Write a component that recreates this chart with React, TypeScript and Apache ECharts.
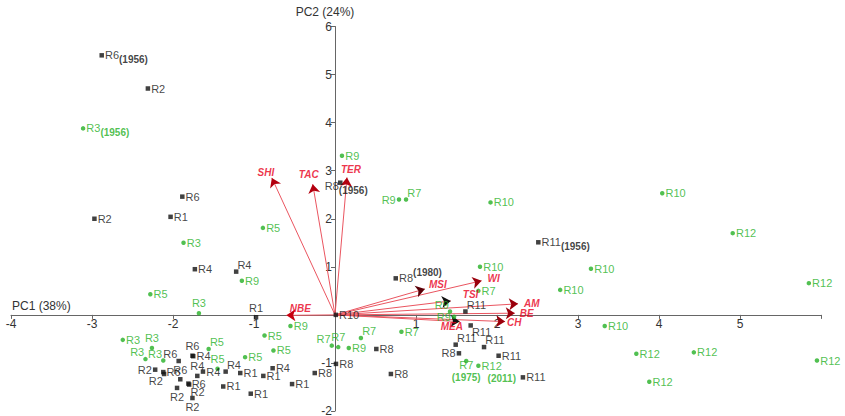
import React, { useEffect, useRef } from "react";
import * as echarts from "echarts";

// ---- data ----
// black samples: [PC1, PC2, label, note]
const blackPoints: [number, number, string, string][] = [
  [-2.88, 5.4, "R6", "(1956)"],
  [-2.31, 4.71, "R2", ""],
  [-1.885, 2.46, "R6", ""],
  [-2.97, 2.0, "R2", ""],
  [-2.03, 2.04, "R1", ""],
  [-1.73, 0.95, "R4", ""],
  [-1.22, 0.9, "R4", ""],
  [0.065, 2.75, "R8", "(1956)"],
  [0.75, 0.76, "R8", "(1980)"],
  [2.51, 1.51, "R11", "(1956)"],
  [0.01, 0.0, "R10", ""],
  [-0.975, -0.05, "R1", ""],
  [-2.22, -1.14, "R2", ""],
  [-2.12, -1.19, "R6", ""],
  [-2.11, -1.23, "R2", ""],
  [-1.93, -0.96, "R6", ""],
  [-1.76, -0.85, "R6", ""],
  [-1.75, -0.86, "R4", ""],
  [-1.91, -1.34, "R6", ""],
  [-1.7, -1.27, "R4", ""],
  [-1.63, -1.18, "R4", ""],
  [-1.81, -1.43, "R6", ""],
  [-1.35, -1.18, "R4", ""],
  [-1.17, -1.21, "R1", ""],
  [-1.38, -1.49, "R1", ""],
  [-1.95, -1.52, "R2", ""],
  [-1.8, -1.45, "R2", ""],
  [-1.76, -1.73, "R2", ""],
  [-0.77, -1.11, "R4", ""],
  [-0.885, -1.27, "R1", ""],
  [-0.53, -1.44, "R1", ""],
  [-1.04, -1.64, "R1", ""],
  [-0.25, -1.21, "R8", ""],
  [0.012, -1.02, "R8", ""],
  [0.51, -0.71, "R8", ""],
  [0.69, -1.23, "R8", ""],
  [1.61, 0.07, "R11", ""],
  [1.675, -0.22, "R11", ""],
  [1.49, -0.62, "R11", ""],
  [1.53, -0.8, "R8", ""],
  [1.84, -0.67, "R11", ""],
  [2.02, -0.85, "R11", ""],
  [2.32, -1.3, "R11", ""],
];
const blackPlace: string[] = [
  "r", "r", "r", "r", "r", "r", "tr", "r8", "rsup", "r", "r", "t",
  "l", "r", "bl", "tl", "t", "r", "t", "t", "r", "r", "tr", "r", "r", "b", "br", "b",
  "r", "r", "r", "r", "r", "r", "r", "r",
  "tr", "br", "tr", "l", "tr", "r", "r",
];

// green samples: [PC1, PC2, label, note]
const greenPoints: [number, number, string, string][] = [
  [-3.11, 3.88, "R3", "(1956)"],
  [0.086, 3.31, "R9", ""],
  [0.79, 2.4, "R9", ""],
  [0.877, 2.4, "R7", ""],
  [-0.89, 1.81, "R5", ""],
  [-1.87, 1.5, "R3", ""],
  [-2.28, 0.43, "R5", ""],
  [-1.68, 0.035, "R3", ""],
  [-1.15, 0.71, "R9", ""],
  [-2.62, -0.52, "R3", ""],
  [-2.26, -0.69, "R3", ""],
  [-2.34, -0.92, "R3", ""],
  [-2.12, -0.95, "R3", ""],
  [-1.56, -0.71, "R5", ""],
  [-1.45, -1.12, "R5", ""],
  [-1.11, -0.88, "R5", ""],
  [-0.55, -0.23, "R9", ""],
  [-0.87, -0.43, "R5", ""],
  [-0.76, -0.74, "R5", ""],
  [-0.04, -0.64, "R7", ""],
  [0.04, -0.67, "R7", ""],
  [0.17, -0.69, "R9", ""],
  [0.32, -0.48, "R7", ""],
  [0.82, -0.35, "R7", ""],
  [1.79, 1.0, "R10", ""],
  [1.77, 0.5, "R7", ""],
  [1.42, 0.07, "R9", ""],
  [1.47, -0.04, "R9", ""],
  [1.62, -0.96, "R7", "(1975)"],
  [1.77, -1.06, "R12", "(2011)"],
  [1.92, 2.34, "R10", ""],
  [4.04, 2.53, "R10", ""],
  [2.78, 0.52, "R10", ""],
  [3.16, 0.96, "R10", ""],
  [4.91, 1.7, "R12", ""],
  [5.85, 0.66, "R12", ""],
  [3.33, -0.23, "R10", ""],
  [3.72, -0.81, "R12", ""],
  [4.43, -0.78, "R12", ""],
  [5.95, -0.95, "R12", ""],
  [3.88, -1.39, "R12", ""],
];
const greenPlace: string[] = [
  "r", "r", "l", "tr", "r", "r", "r", "t", "r",
  "r", "t", "tl", "tl", "tr", "t", "r", "r", "r", "r",
  "tl", "t", "r", "tr", "r", "r", "r", "tl", "l", "two", "twoR",
  "r", "r", "r", "r", "r", "r", "r", "r", "r", "r", "r",
];

// variable loadings (arrows)
const arrowNames = ["SHI", "TAC", "TER", "NBE", "MSI", "WI", "TSI", "AM", "BE", "CH", "MEA"];
const arrowX = [-0.78, -0.275, 0.148, -0.6, 1.11, 1.81, 1.43, 2.26, 2.22, 2.1, 1.54];
const arrowY = [2.85, 2.72, 2.86, -0.01, 0.54, 0.71, 0.29, 0.23, 0.035, -0.14, -0.14];

const xAxisName = "PC1 (38%)";
const yAxisName = "PC2 (24%)";

// axis ranges
const X_MIN = -4;
const X_MAX = 6;
const Y_MIN = -2;
const Y_MAX = 6;

// ---- styles ----
const FONT = "'Liberation Sans', Arial, Helvetica, sans-serif";
const BLACK = "#111111";
const GREEN = "#25b025";
const RED = "#e8001c";
const ARROW = "#ea5560";
const HEAD: Record<string, string> = {
  SHI: "#b3000f",
  TAC: "#b3000f",
  TER: "#b3000f",
  NBE: "#c8000f",
  MSI: "#5a0008",
  WI: "#9a000c",
  TSI: "#111111",
  AM: "#9a000c",
  BE: "#9a000c",
  CH: "#9a000c",
  MEA: "#111111",
};
const W = 845;
const H = 416;
const G = { left: 11, right: 24, top: 26.5, bottom: 5 };

const PLACE: Record<string, any> = {
  r: { position: "right", distance: 1 },
  rsup: { position: "right", distance: 1 },
  l: { position: "left", distance: 1 },
  t: { position: "top", distance: 1 },
  b: { position: "bottom", distance: 0 },
  tr: { position: "right", distance: 0, offset: [-1, -7] },
  br: { position: "right", distance: 0, offset: [-1, 7] },
  tl: { position: "left", distance: 0, offset: [1, -7] },
  bl: { position: "left", distance: 0, offset: [1, 7] },
  r8: { position: "bottom", distance: 0, offset: [6, -5] },
  two: { position: "bottom", distance: 0, offset: [0, -5] },
  twoR: { position: "right", distance: 1, offset: [0, 6] },
};

const ARROW_LABEL: Record<string, any> = {
  SHI: { position: "top", distance: 0, offset: [-6, 0] },
  TAC: { position: "top", distance: 0, offset: [-4, -5] },
  TER: { position: "top", distance: 0, offset: [4, -3] },
  NBE: { position: "top", distance: 0, offset: [14, -2] },
  MSI: { position: "right", distance: 4, offset: [0, -4] },
  WI: { position: "right", distance: 6, offset: [0, -2] },
  TSI: { position: "right", distance: 12, offset: [0, -6] },
  AM: { position: "right", distance: 6, offset: [0, 0] },
  BE: { position: "right", distance: 5, offset: [0, 0] },
  CH: { position: "right", distance: 2, offset: [0, 1] },
  MEA: { position: "bottom", distance: 0, offset: [-8, 0] },
};

function kindOf(place: string, note: string) {
  if (!note) return "plain";
  if (place === "two") return "two";
  if (place === "twoR") return "twoI";
  if (place === "rsup") return "sup";
  return "sub";
}

function buildData(points: [number, number, string, string][], places: string[]) {
  return points.map((p, i) => ({
    value: [p[0], p[1]],
    name: p[2],
    note: p[3],
    kind: kindOf(places[i], p[3]),
    label: { ...PLACE[places[i]] },
  }));
}

function formatter(params: any) {
  const d = params.data;
  switch (d.kind) {
    case "sub":
      return `{n|${d.name}}{sub|${d.note}}`;
    case "sup":
      return `{n|${d.name}}{sup|${d.note}}`;
    case "two":
      return `{n|${d.name}}\n{nb|${d.note}}`;
    case "twoI":
      return `{n|${d.name}}\n{nbi|${d.note}}`;
    default:
      return `{n|${d.name}}`;
  }
}

function rich(color: string) {
  const note = { fontSize: 10, fontWeight: "bold", color, fontFamily: FONT, lineHeight: 12 };
  return {
    n: { fontSize: 11, color, fontFamily: FONT, lineHeight: 13 },
    sub: { ...note, padding: [9, 0, 0, 0] },
    sup: { ...note, padding: [0, 0, 12, 0] },
    nb: { ...note },
    nbi: { ...note, padding: [0, 0, 0, 6] },
  };
}

export default function App() {
  const ref = useRef<HTMLDivElement>(null);

  useEffect(() => {
    if (!ref.current) return;
    const chart = echarts.init(ref.current, null, { renderer: "svg" });

    // place each axis on the other's zero line
    const gridW = W - G.left - G.right;
    const gridH = H - G.top - G.bottom;
    const xOffset = -((0 - Y_MIN) / (Y_MAX - Y_MIN)) * gridH;
    const yOffset = -((0 - X_MIN) / (X_MAX - X_MIN)) * gridW;

    const arrowLines = arrowNames.map((n, i) => ({
      name: n,
      coords: [
        [0, 0],
        [arrowX[i], arrowY[i]],
      ],
    }));
    const arrowHeads = arrowNames.map((n, i) => ({
      name: n,
      coords: [
        [0, 0],
        [arrowX[i], arrowY[i]],
      ],
      lineStyle: { color: HEAD[n] },
    }));
    const arrowTips = arrowNames.map((n, i) => ({
      value: [arrowX[i], arrowY[i]],
      name: n,
      label: { ...ARROW_LABEL[n] },
    }));

    chart.setOption({
      animation: false,
      backgroundColor: "#ffffff",
      grid: {
        ...G,
        containLabel: false,
        outerBoundsMode: "none",
      },
      xAxis: {
        type: "value",
        min: X_MIN,
        max: X_MAX,
        interval: 1,
        position: "bottom",
        offset: xOffset,
        name: xAxisName,
        nameLocation: "start",
        nameGap: -1,
        nameTextStyle: {
          align: "left",
          verticalAlign: "bottom",
          padding: [0, 0, 3, 0],
          fontSize: 12,
          color: "#333",
          fontFamily: FONT,
        },
        axisLine: { onZero: false, lineStyle: { color: "#666", width: 1 } },
        axisTick: { show: true, length: 4, lineStyle: { color: "#666" } },
        axisLabel: {
          margin: 3,
          fontSize: 12,
          color: "#333",
          fontFamily: FONT,
          formatter: (v: number) => (v === 0 || v === X_MAX ? "" : String(v)),
        },
        splitLine: { show: false },
      },
      yAxis: {
        type: "value",
        min: Y_MIN,
        max: Y_MAX,
        interval: 1,
        position: "left",
        offset: yOffset,
        name: yAxisName,
        nameLocation: "end",
        nameGap: 15,
        nameTextStyle: {
          align: "center",
          verticalAlign: "middle",
          padding: [0, 20, 0, 0],
          fontSize: 12,
          color: "#333",
          fontFamily: FONT,
        },
        axisLine: { onZero: false, lineStyle: { color: "#666", width: 1 } },
        axisTick: { show: true, length: 4, lineStyle: { color: "#666" } },
        axisLabel: {
          margin: 3,
          fontSize: 12,
          color: "#333",
          fontFamily: FONT,
          formatter: (v: number) => (v === 0 ? "" : String(v)),
        },
        splitLine: { show: false },
      },
      series: [
        {
          type: "lines",
          coordinateSystem: "cartesian2d",
          data: arrowLines,
          symbol: ["none", "none"],
          lineStyle: { color: ARROW, width: 1, opacity: 1, curveness: 0 },
          z: 2,
          silent: true,
        },
        {
          type: "lines",
          coordinateSystem: "cartesian2d",
          data: arrowHeads,
          symbol: ["none", "arrow"],
          symbolSize: 9,
          lineStyle: { width: 0, opacity: 1, curveness: 0 },
          z: 3,
          silent: true,
        },
        {
          type: "scatter",
          data: arrowTips,
          symbolSize: 0,
          z: 5,
          silent: true,
          label: {
            show: true,
            formatter: "{b}",
            fontSize: 10,
            fontWeight: "bold",
            fontStyle: "italic",
            color: RED,
            fontFamily: FONT,
          },
        },
        {
          type: "scatter",
          data: buildData(blackPoints, blackPlace),
          symbol: "rect",
          symbolSize: 4.5,
          itemStyle: { color: BLACK },
          z: 4,
          silent: true,
          label: { show: true, formatter, rich: rich(BLACK) },
        },
        {
          type: "scatter",
          data: buildData(greenPoints, greenPlace),
          symbol: "circle",
          symbolSize: 4.5,
          itemStyle: { color: GREEN },
          z: 4,
          silent: true,
          label: { show: true, formatter, rich: rich(GREEN) },
        },
      ],
    });

    return () => chart.dispose();
  }, []);

  return (
    <div
      ref={ref}
      style={{ position: "fixed", left: 0, top: 0, width: W, height: H, background: "#fff" }}
    />
  );
}
